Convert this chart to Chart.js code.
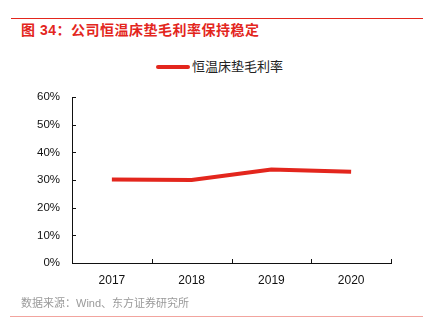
<!DOCTYPE html>
<html>
<head>
<meta charset="utf-8">
<script src="https://cdn.jsdelivr.net/npm/chart.js@4.4.0/dist/chart.umd.min.js"></script>
<style>
  html, body { margin: 0; padding: 0; background: #fff; }
  body { width: 435px; height: 334px; position: relative; overflow: hidden;
         font-family: "Liberation Sans", "Noto Sans CJK SC", sans-serif; }
  #wrap { position: absolute; left: 0; top: 0; width: 435px; height: 334px; }
  .rule { position: absolute; height: 1px; }
  #title { position: absolute; left: 21px; top: 21px; font-size: 14px; font-weight: bold;
           letter-spacing: 0.5px; color: #e3261d; white-space: nowrap; line-height: 18px; }
  #legend { position: absolute; left: 156px; top: 58px; height: 18px; line-height: 18px;
            font-size: 13px; color: #222; white-space: nowrap; }
  #legend span.swatch { display: inline-block; width: 34px; height: 4px; border-radius: 2px;
                        vertical-align: middle; margin-right: 2px; position: relative; top: -1px; }
  #source { position: absolute; left: 21px; top: 295px; font-size: 11px; color: #9a9a9a;
            white-space: nowrap; line-height: 16px; }
</style>
</head>
<body>
<div class="rule" style="left:11px; width:412px; top:18px; background:#e3261d;"></div>
<div id="title">图 34：公司恒温床垫毛利率保持稳定</div>
<div id="legend"></div>
<div id="wrap"><canvas id="myCanvas" width="435" height="334"></canvas></div>
<div id="source">数据来源：Wind、东方证券研究所</div>
<div class="rule" style="left:10px; width:413px; top:316px; background:#f2a49e;"></div>
<script>
// values
const years = ['2017', '2018', '2019', '2020'];
const margin = [30.2, 30.0, 33.8, 33.0];
const yTicks = [0, 10, 20, 30, 40, 50, 60];
const seriesName = '恒温床垫毛利率';
const lineColor = '#e3261d';

// inward tick marks, like the original
const innerTicks = {
    id: 'innerTicks',
    afterDraw(chart) {
        const ctx = chart.ctx;
        const x = chart.scales.x, y = chart.scales.y;
        const left = chart.chartArea.left, bottom = chart.chartArea.bottom;
        ctx.save();
        ctx.strokeStyle = '#111';
        ctx.lineWidth = 1;
        ctx.beginPath();
        y.ticks.forEach(t => {
            const py = Math.round(y.getPixelForValue(t.value)) + 0.5;
            ctx.moveTo(left, py);
            ctx.lineTo(left + 4, py);
        });
        for (let i = 1; i <= years.length; i++) {
            const px = Math.round(x.getPixelForValue(i - 0.5)) + 0.5;
            ctx.moveTo(px, bottom);
            ctx.lineTo(px, bottom - 4);
        }
        ctx.stroke();
        ctx.restore();
    }
};

const ctx = document.getElementById('myCanvas').getContext('2d');
const chart = new Chart(ctx, {
    type: 'line',
    data: {
        labels: years,
        datasets: [{
            label: seriesName,
            data: margin,
            borderColor: lineColor,
            backgroundColor: lineColor,
            borderWidth: 4,
            pointRadius: 0,
            tension: 0,
            fill: false
        }]
    },
    options: {
        responsive: false,
        animation: false,
        layout: { padding: { top: 97, right: 44, left: 0, bottom: 0 } },
        plugins: {
            legend: { display: false },
            tooltip: { enabled: false }
        },
        scales: {
            x: {
                offset: true,
                grid: { display: true, drawOnChartArea: false, drawTicks: false },
                border: { display: true, color: '#111', width: 1 },
                ticks: { color: '#111', padding: 10, font: { family: 'Liberation Sans', size: 12 } },
                afterFit(s) { s.height = 71; }
            },
            y: {
                min: 0,
                max: 60,
                afterBuildTicks(s) { s.ticks = yTicks.map(v => ({ value: v })); },
                grid: { display: true, drawOnChartArea: false, drawTicks: false },
                border: { display: true, color: '#111', width: 1 },
                ticks: {
                    color: '#111', padding: 12,
                    font: { family: 'Liberation Sans', size: 11.5 },
                    callback: v => v + '%'
                },
                afterFit(s) { s.width = 72; }
            }
        }
    },
    plugins: [innerTicks]
});

// html legend from the dataset
document.getElementById('legend').innerHTML = chart.data.datasets.map(d =>
    '<span class="swatch" style="background:' + d.borderColor + '"></span>' + d.label).join('');
</script>
</body>
</html>
